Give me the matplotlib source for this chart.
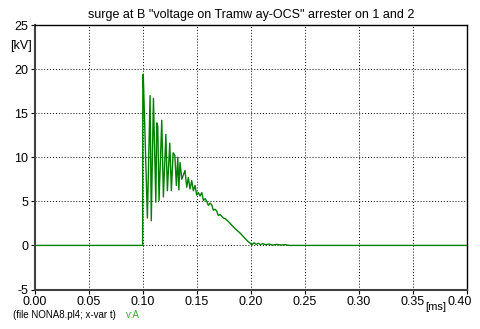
import matplotlib
matplotlib.use("Agg")
import matplotlib.pyplot as plt
import matplotlib.transforms as mtransforms

plt.rcParams['font.family'] = ['Liberation Sans', 'DejaVu Sans']

# Time [ms] and voltage [kV]
t_ms = [0.0, 0.1000, 0.1002, 0.1006, 0.1044, 0.1069, 0.1080, 0.1100, 0.1122,
        0.1131, 0.1140, 0.1152, 0.1177, 0.1192, 0.1215, 0.1229, 0.1251, 0.1266,
        0.1282, 0.1298, 0.1312, 0.1325, 0.1335, 0.1346, 0.1362, 0.1392, 0.1408,
        0.1423, 0.1438, 0.1454, 0.1469, 0.1485, 0.1500, 0.1515, 0.1531, 0.1547,
        0.1562, 0.1578, 0.1593, 0.1608, 0.1624, 0.1639, 0.1654, 0.1670, 0.1685,
        0.1700, 0.1716, 0.1732, 0.1747, 0.1762, 0.1785, 0.1809, 0.1832, 0.1855,
        0.1878, 0.1901, 0.1924, 0.1947, 0.1970, 0.1994, 0.2009, 0.2030, 0.2050,
        0.2070, 0.2090, 0.2110, 0.2140, 0.2170, 0.2200, 0.2240, 0.2280, 0.2320,
        0.2360, 0.4000]
v_kv = [0.0, 0.0, 19.3, 19.4, 3.1, 17.0, 2.8, 16.7, 4.9,
        13.9, 13.5, 5.1, 14.2, 5.5, 12.6, 6.2, 11.6, 6.2,
        10.5, 10.2, 6.8, 10.0, 6.3, 9.4, 7.5, 8.5, 6.6,
        7.7, 6.4, 7.35, 6.2, 6.8, 5.7, 6.0, 5.6, 6.0,
        5.1, 5.3, 5.0, 4.55, 4.8, 4.6, 4.0, 4.1, 3.9,
        3.4, 3.5, 3.3, 3.1, 3.05, 2.8, 2.5, 2.2, 1.9,
        1.65, 1.4, 1.1, 0.8, 0.5, 0.26, 0.05, 0.3, 0.12,
        0.25, 0.08, 0.2, 0.08, 0.15, 0.04, 0.12, 0.04, 0.08,
        0.0, 0.0]

x_ticks = [0.00, 0.05, 0.10, 0.15, 0.20, 0.25, 0.30, 0.35, 0.40]
x_labels = ["0.00", "0.05", "0.10", "0.15", "0.20", "0.25", "0.30", "0.35", "0.40"]
y_ticks = [-5, 0, 5, 10, 15, 20, 25]
y_labels = ["-5", "0", "5", "10", "15", "20", "25"]

title = 'surge at B "voltage on Tramw ay-OCS" arrester on 1 and 2'

fig = plt.figure(figsize=(4.81, 3.29), dpi=100)
ax = fig.add_axes([34.5 / 481, 1 - 289.5 / 329, (467 - 34.5) / 481, (289.5 - 25) / 329])

ax.plot(t_ms, v_kv, color='#008000', lw=1.0, zorder=3)

ax.set_xlim(0, 0.4)
ax.set_ylim(-5, 25)
ax.set_xticks(x_ticks)
ax.set_xticklabels(x_labels, fontsize=9)
ax.set_yticks(y_ticks)
ax.set_yticklabels(y_labels, fontsize=9)
ax.tick_params(axis='both', direction='out', length=3, width=0.8, pad=1.5, colors='black')
last = ax.get_xticklabels()[-1]
last.set_transform(last.get_transform() + mtransforms.ScaledTranslation(-7 / 100, 0, fig.dpi_scale_trans))

ax.grid(True, color='black', linestyle=(0, (1, 2)), linewidth=0.7)
for s in ['top', 'right']:
    ax.spines[s].set_color('black')
    ax.spines[s].set_linewidth(1.0)
for s in ['left', 'bottom']:
    ax.spines[s].set_color('#404040')
    ax.spines[s].set_linewidth(1.5)

fig.text(250.7 / 481, 1 - 15 / 329, title, ha='center', va='center', fontsize=9)
fig.text(21 / 481, 1 - 46 / 329, '[kV]', ha='center', va='center', fontsize=9)
fig.text(436 / 481, 1 - 307 / 329, '[ms]', ha='center', va='center', fontsize=8)
fig.text(13 / 481, 1 - 315 / 329, '(file NONA8.pl4; x-var t)', ha='left', va='center', fontsize=7)
fig.text(126 / 481, 1 - 315 / 329, 'v:A', ha='left', va='center', fontsize=7, color='#3aaa35')

fig.savefig('out.png', dpi=100)
